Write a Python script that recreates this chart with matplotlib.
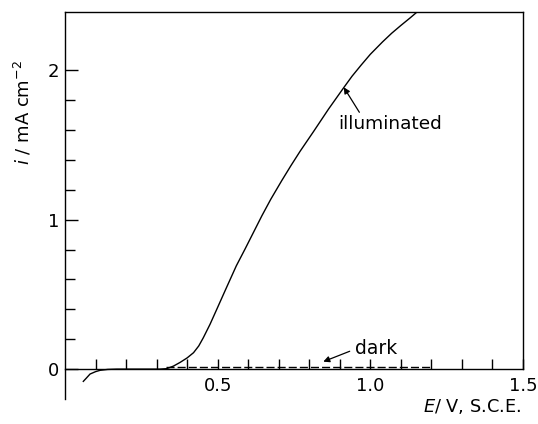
import matplotlib
matplotlib.use("Agg")
import matplotlib.pyplot as plt
from matplotlib.ticker import FixedLocator

# Data
E_illum = [0.06, 0.07, 0.082, 0.10, 0.115, 0.14, 0.17, 0.22, 0.27, 0.31, 0.333,
           0.355, 0.377, 0.40, 0.421, 0.438, 0.453, 0.475, 0.497, 0.525, 0.561, 0.59,
           0.617, 0.645, 0.674, 0.71, 0.74, 0.77, 0.814, 0.863, 0.913, 0.94, 0.97,
           1.00, 1.04, 1.07, 1.10, 1.13, 1.153, 1.17]
i_illum = [-0.082, -0.06, -0.033, -0.017, -0.008, -0.002, 0.0, 0.0, 0.0, 0.0, 0.003,
           0.02, 0.045, 0.075, 0.11, 0.155, 0.21, 0.30, 0.40, 0.528, 0.691, 0.805,
           0.914, 1.027, 1.137, 1.262, 1.362, 1.458, 1.59, 1.74, 1.884, 1.96, 2.035,
           2.107, 2.19, 2.248, 2.30, 2.35, 2.39, 2.415]

E_dark = [0.33, 1.20]
i_dark = [0.015, 0.015]

x_major = [0.5, 1.0, 1.5]
x_labels = ["0.5", "1.0", "1.5"]
x_minor = [0.1, 0.2, 0.3, 0.4, 0.6, 0.7, 0.8, 0.9, 1.1, 1.2, 1.3, 1.4]
y_major = [0, 1, 2]
y_labels = ["0", "1", "2"]
y_minor = [0.2, 0.4, 0.6, 0.8, 1.2, 1.4, 1.6, 1.8]

plt.rcParams['font.family'] = ['DejaVu Sans']

W, H = 538, 424
fig = plt.figure(figsize=(W / 100, H / 100), dpi=100)
left, right, top, bottom = 65, 523, 12, 399
ax = fig.add_axes([left / W, 1 - bottom / H, (right - left) / W, (bottom - top) / H])

ymax = 2.39
ax.set_xlim(0, 1.5)
ax.set_ylim(-0.2, ymax)

ax.plot(E_illum, i_illum, color='black', lw=1.0, solid_joinstyle='round')
ax.plot(E_dark, i_dark, color='black', lw=1.0, dashes=(5.8, 2.2))

# spines
for s in ax.spines.values():
    s.set_linewidth(1.0)
ax.spines['bottom'].set_position(('data', 0))
ax.spines['right'].set_bounds(0, ymax)

# ticks
ax.xaxis.set_major_locator(FixedLocator(x_major))
ax.set_xticklabels(x_labels)
ax.xaxis.set_minor_locator(FixedLocator(x_minor))
ax.yaxis.set_major_locator(FixedLocator(y_major))
ax.set_yticklabels(y_labels)
ax.yaxis.set_minor_locator(FixedLocator(y_minor))
ax.tick_params(axis='x', which='both', direction='in', length=7, width=1.0,
               labelsize=13, pad=6, top=False)
ax.tick_params(axis='y', which='major', direction='in', length=9, width=1.0,
               labelsize=13, pad=4, right=False)
ax.tick_params(axis='y', which='minor', direction='in', length=7, width=1.0, right=False)

# axis labels
fig.text(521 / W, 1 - 407 / H, r"$E$/ V, S.C.E.", ha='right', va='center', fontsize=12.8)
fig.text(23 / W, 1 - 113 / H, r"$i$ / mA cm$^{-2}$", ha='center', va='center',
         rotation=90, fontsize=13)

# annotations
ax.annotate("illuminated", xy=(0.913, 1.886), xytext=(0.895, 1.64),
            fontsize=13.3, ha='left', va='center',
            arrowprops=dict(arrowstyle='-|>', color='black', lw=0.9,
                            shrinkA=0, shrinkB=0, mutation_scale=9,
                            relpos=(0.22, 1.0)))
ax.annotate("dark", xy=(0.846, 0.05), xytext=(0.95, 0.14),
            fontsize=13.5, ha='left', va='center',
            arrowprops=dict(arrowstyle='-|>', color='black', lw=0.9,
                            shrinkA=2, shrinkB=0, mutation_scale=9,
                            relpos=(0.0, 0.45)))

fig.savefig("out.png", dpi=100)
